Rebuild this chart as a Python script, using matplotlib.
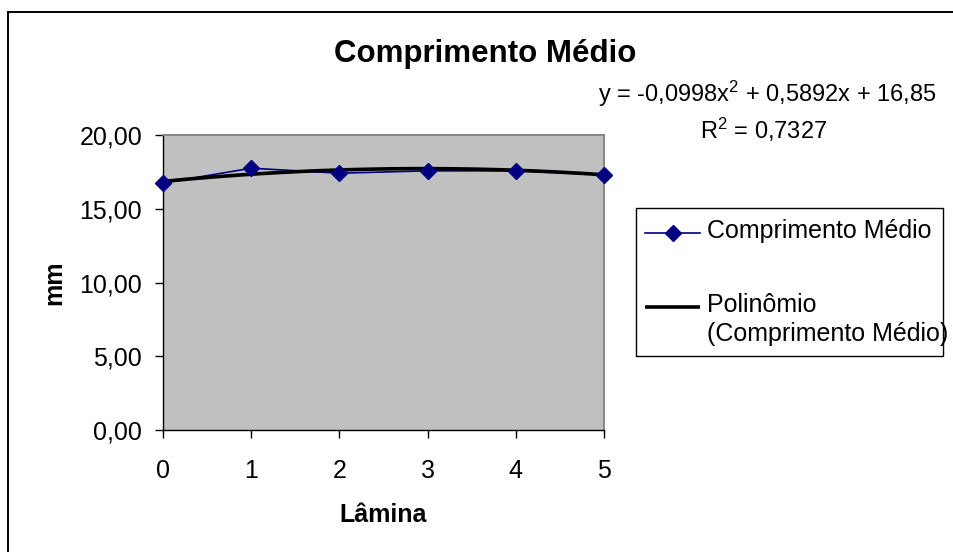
import numpy as np
import matplotlib
matplotlib.use("Agg")
import matplotlib.pyplot as plt
from matplotlib.lines import Line2D
from matplotlib.patches import Rectangle

plt.rcParams['font.family'] = ['Liberation Sans', 'DejaVu Sans']
plt.rcParams['mathtext.fontset'] = 'custom'
plt.rcParams['mathtext.rm'] = 'Liberation Sans'
plt.rcParams['mathtext.default'] = 'regular'

# ---- data ----
title = "Comprimento Médio"
x_label = "Lâmina"
y_label = "mm"
lamina = [0, 1, 2, 3, 4, 5]
comprimento = [16.74, 17.75, 17.41, 17.57, 17.57, 17.30]
poly_coef = [-0.0998, 0.5892, 16.85]
r2 = 0.7327
series_label = "Comprimento Médio"
trend_label = ["Polinômio", "(Comprimento Médio)"]
x_ticks = [0, 1, 2, 3, 4, 5]
y_ticks = [0, 5, 10, 15, 20]
y_ticklabels = ["0,00", "5,00", "10,00", "15,00", "20,00"]

W, H = 954, 552
fig = plt.figure(figsize=(W / 100, H / 100), dpi=100)


def fx(px):
    return px / W


def fy(py):
    return 1 - py / H


# outer chart border (continues past right/bottom edges)
fig.add_artist(Rectangle((fx(8), -0.2), 1.5, fy(12) + 0.2, transform=fig.transFigure,
                         fill=False, edgecolor='black', lw=1.4))

ax = fig.add_axes([fx(163), fy(430), (604 - 163) / W, (430 - 135) / H])
ax.set_facecolor('#C0C0C0')

series_line = dict(color='#000080', lw=1.2)
series_marker = dict(marker='D', ms=8, mfc='#000080', mec='#000080', ls='none')
trend_style = dict(color='black', lw=2.6, solid_capstyle='butt')

xs = np.linspace(min(lamina), max(lamina), 101)
trend = np.polyval(poly_coef, xs)

ax.plot(lamina, comprimento, zorder=3, clip_on=False, **series_line)
ax.plot(xs, trend, zorder=4, **trend_style)
ax.plot(lamina, comprimento, zorder=5, clip_on=False, **series_marker)

ax.set_xlim(0, 5)
ax.set_ylim(0, 20)
ax.set_xticks(x_ticks)
ax.set_xticklabels([str(t) for t in x_ticks])
ax.set_yticks(y_ticks)
ax.set_yticklabels(y_ticklabels)
ax.tick_params(axis='both', direction='out', length=6, width=1, color='black',
               labelsize=18, labelcolor='black')
ax.tick_params(axis='x', pad=15)
ax.tick_params(axis='y', pad=9)
for s in ['left', 'bottom']:
    ax.spines[s].set_color('black')
    ax.spines[s].set_linewidth(1)
for s in ['top', 'right']:
    ax.spines[s].set_color('#808080')
    ax.spines[s].set_linewidth(1.3)

# titles
fig.text(fx(485.5), fy(62), title, ha='center', va='baseline', fontsize=22.5, fontweight='bold')
fig.text(fx(383.5), fy(522), x_label, ha='center', va='baseline', fontsize=18, fontweight='bold')
fig.text(fx(61), fy(283), y_label, ha='center', va='baseline', rotation=90,
         rotation_mode='anchor', fontsize=18, fontweight='bold')


def fmt(v):
    return f"{v:g}".replace('.', ',')


a, b, c = poly_coef
eq = f"y = {fmt(a)}x$^{{2}}$ + {fmt(b)}x + {fmt(c)}"
fig.text(fx(767), fy(102), eq, ha='center', va='baseline', fontsize=17)
fig.text(fx(764), fy(139), f"R$^{{2}}$ = {fmt(r2)}", ha='center', va='baseline', fontsize=17)

# legend (drawn to match the Excel layout)
fig.add_artist(Rectangle((fx(636), fy(356)), (943 - 636) / W, (356 - 208) / H,
                         transform=fig.transFigure, facecolor='white', edgecolor='black', lw=1))
fig.add_artist(Line2D([fx(645), fx(700)], [fy(233), fy(233)], transform=fig.transFigure, **series_line))
fig.add_artist(Line2D([fx(672.5)], [fy(233)], transform=fig.transFigure, **series_marker))
fig.add_artist(Line2D([fx(645), fx(700)], [fy(307), fy(307)], transform=fig.transFigure, **trend_style))
fig.text(fx(707), fy(238), series_label, ha='left', va='baseline', fontsize=18)
fig.text(fx(707), fy(312), trend_label[0], ha='left', va='baseline', fontsize=18)
fig.text(fx(707), fy(341.5), trend_label[1], ha='left', va='baseline', fontsize=18)

fig.savefig("out.png", dpi=100, facecolor='white')
